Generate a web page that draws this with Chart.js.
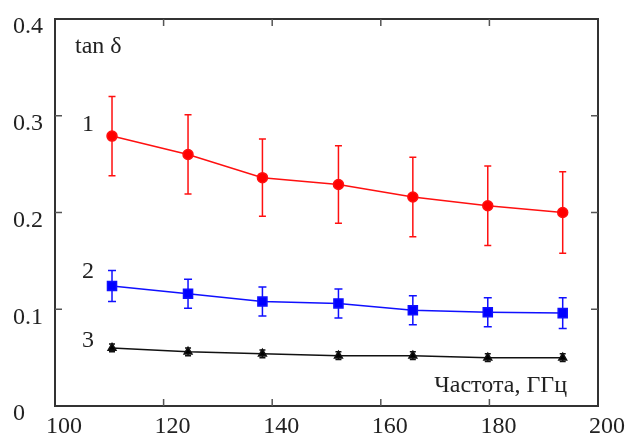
<!DOCTYPE html>
<html>
<head>
<meta charset="utf-8">
<script src="https://cdn.jsdelivr.net/npm/chart.js@4"></script>
<style>
  html, body { margin: 0; padding: 0; background: #fff; }
  #wrap { width: 627px; height: 435px; }
</style>
</head>
<body>
<div id="wrap"><canvas id="tanChart"></canvas></div>
<script>
// Frequencies, GHz
const freqs = [110.5, 124.5, 138.2, 152.2, 165.9, 179.7, 193.5];

// tan delta for the three samples, with error bar half-widths
const tan1 = [0.279, 0.260, 0.236, 0.229, 0.216, 0.207, 0.200];
const err1 = [0.041, 0.041, 0.040, 0.040, 0.041, 0.041, 0.042];
const tan2 = [0.124, 0.116, 0.108, 0.106, 0.099, 0.097, 0.096];
const err2 = [0.016, 0.015, 0.015, 0.015, 0.015, 0.015, 0.016];
const tan3 = [0.060, 0.056, 0.054, 0.052, 0.052, 0.050, 0.050];
const err3 = [0.004, 0.004, 0.004, 0.004, 0.004, 0.004, 0.004];

const xTicks = [100, 120, 140, 160, 180, 200];
const yTicks = [0, 0.1, 0.2, 0.3, 0.4];

const serif = "'Liberation Serif', 'DejaVu Serif', serif";

function points(ys) {
    return freqs.map((f, i) => ({ x: f, y: ys[i] }));
}

// Error bars drawn through the chart scales
const errorBars = {
    id: "errorBars",
    beforeDatasetsDraw(chart) {
        const { ctx, scales: { x, y } } = chart;
        chart.data.datasets.forEach((ds) => {
            const errs = ds.errors;
            ctx.save();
            ctx.strokeStyle = ds.borderColor;
            ctx.lineWidth = 1.5;
            ds.data.forEach((p, i) => {
                const px = x.getPixelForValue(p.x);
                const top = y.getPixelForValue(p.y + errs[i]);
                const bot = y.getPixelForValue(p.y - errs[i]);
                const cap = ds.capWidth;
                ctx.beginPath();
                ctx.moveTo(px, top);
                ctx.lineTo(px, bot);
                ctx.moveTo(px - cap, top);
                ctx.lineTo(px + cap, top);
                ctx.moveTo(px - cap, bot);
                ctx.lineTo(px + cap, bot);
                ctx.stroke();
            });
            ctx.restore();
        });
    },
};

// Frame with inward ticks, plus the text labels
const frame = {
    id: "frame",
    afterDraw(chart) {
        const { ctx, chartArea: a, scales: { x, y } } = chart;
        ctx.save();
        ctx.strokeStyle = "#333";
        ctx.lineWidth = 2;
        ctx.strokeRect(a.left, a.top, a.right - a.left, a.bottom - a.top);

        ctx.strokeStyle = "#555";
        ctx.lineWidth = 1.5;
        const len = 7;
        ctx.beginPath();
        xTicks.slice(1, -1).forEach((v) => {
            const px = x.getPixelForValue(v);
            ctx.moveTo(px, a.bottom);
            ctx.lineTo(px, a.bottom - len);
            ctx.moveTo(px, a.top);
            ctx.lineTo(px, a.top + len);
        });
        yTicks.slice(1, -1).forEach((v) => {
            const py = y.getPixelForValue(v);
            ctx.moveTo(a.left, py);
            ctx.lineTo(a.left + len, py);
            ctx.moveTo(a.right, py);
            ctx.lineTo(a.right - len, py);
        });
        ctx.stroke();

        ctx.fillStyle = "#222";
        ctx.font = "24px " + serif;
        ctx.textBaseline = "middle";
        ctx.textAlign = "left";
        ctx.fillText("tan δ", 75, 47);
        ctx.textAlign = "center";
        ctx.fillText("1", 88, 125);
        ctx.fillText("2", 88, 272);
        ctx.fillText("3", 88, 341);
        ctx.textAlign = "right";
        ctx.fillText("Частота, ГГц", 567, 386);
        ctx.restore();
    },
};

new Chart(document.getElementById("tanChart"), {
    type: "scatter",
    data: {
        datasets: [
            {
                label: "1",
                data: points(tan1),
                errors: err1,
                capWidth: 3.5,
                showLine: true,
                borderColor: "#ff1010",
                backgroundColor: "#ff0000",
                borderWidth: 1.5,
                pointStyle: "circle",
                pointRadius: 5,
            },
            {
                label: "2",
                data: points(tan2),
                errors: err2,
                capWidth: 4,
                showLine: true,
                borderColor: "#1010ff",
                backgroundColor: "#0000ff",
                borderWidth: 1.5,
                pointStyle: "rect",
                pointRadius: 6.4,
            },
            {
                label: "3",
                data: points(tan3),
                errors: err3,
                capWidth: 3,
                showLine: true,
                borderColor: "#111111",
                backgroundColor: "#000000",
                borderWidth: 1.5,
                pointStyle: "triangle",
                pointRadius: 4.5,
            },
        ],
    },
    options: {
        responsive: true,
        maintainAspectRatio: false,
        animation: false,
        layout: { padding: { left: 13, top: 19, right: 29, bottom: 0 } },
        plugins: {
            legend: { display: false },
            tooltip: { enabled: false },
        },
        scales: {
            x: {
                type: "linear",
                min: 100,
                max: 200,
                afterFit: (s) => { s.height = 29; },
                afterBuildTicks: (s) => { s.ticks = xTicks.map((v) => ({ value: v })); },
                grid: { display: false, drawTicks: false },
                border: { display: false },
                ticks: {
                    padding: 6,
                    labelOffset: 9,
                    color: "#222",
                    font: { family: serif, size: 24 },
                    maxRotation: 0,
                },
            },
            y: {
                type: "linear",
                min: 0,
                max: 0.4,
                afterFit: (s) => { s.width = 42; },
                afterBuildTicks: (s) => { s.ticks = yTicks.map((v) => ({ value: v })); },
                grid: { display: false, drawTicks: false },
                border: { display: false },
                ticks: {
                    crossAlign: "far",
                    labelOffset: 8,
                    color: "#222",
                    font: { family: serif, size: 24 },
                    callback: (v) => (v === 0 ? "0" : v.toFixed(1)),
                },
            },
        },
    },
    plugins: [errorBars, frame],
});
</script>
</body>
</html>
